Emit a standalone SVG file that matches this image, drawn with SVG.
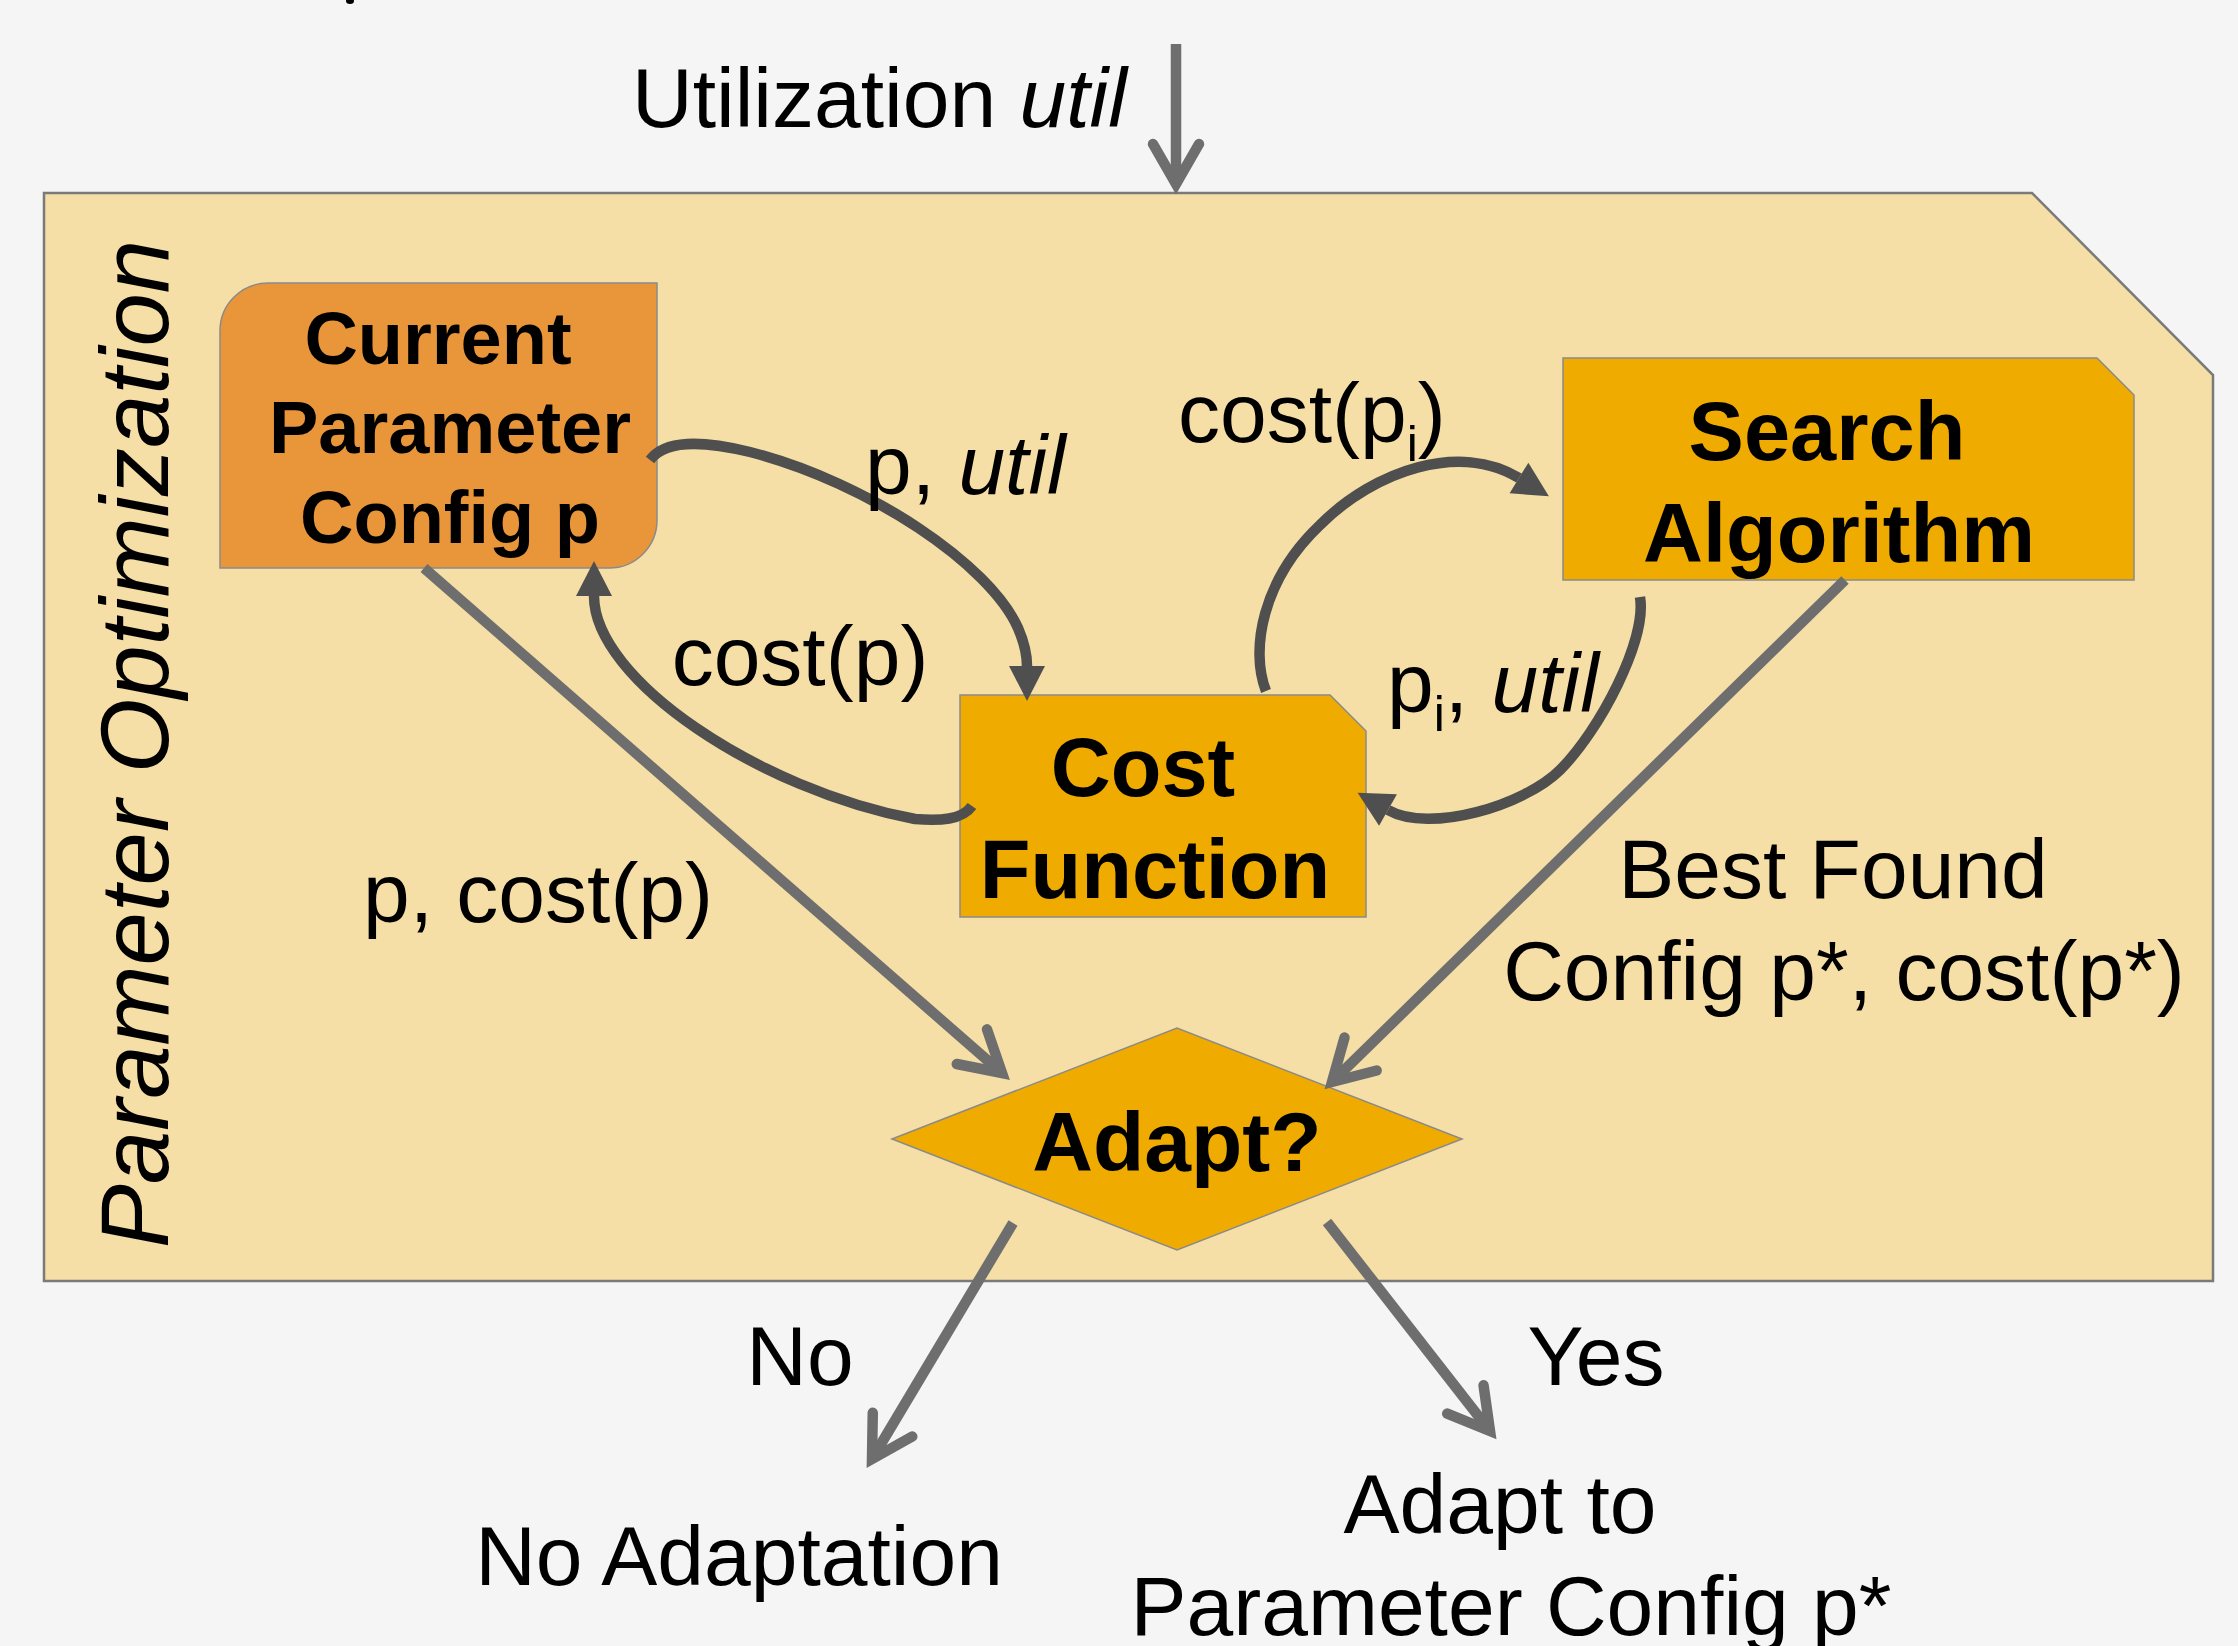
<svg xmlns="http://www.w3.org/2000/svg" width="2238" height="1646" viewBox="0 0 2238 1646">
  <style>
    .lbl { font-family: "Liberation Sans", Arial, Helvetica, sans-serif; font-size: 84px; fill: #000; }
    .it { font-style: italic; }
    .sub { font-size: 50px; }
    .bold { font-family: "Liberation Sans", Arial, Helvetica, sans-serif; font-weight: bold; fill: #000; text-anchor: middle; }
    .mid { text-anchor: middle; }
    .node { stroke: #8a8a8a; stroke-width: 1.5; }
    .orange { fill: #E9963B; }
    .gold { fill: #F0AB00; }
    .straight { fill: none; stroke: #6E6E6E; stroke-width: 10.5; marker-end: url(#chev); }
    .curved { fill: none; stroke: #4F4F4F; stroke-width: 10.5; marker-end: url(#tri); }
  </style>
  <defs>
    <marker id="chev" markerUnits="userSpaceOnUse" viewBox="-60 -40 80 80" markerWidth="80" markerHeight="80" refX="0" refY="0" orient="auto">
      <path d="M-40,-23 L0,0 L-40,23" fill="none" stroke="#6E6E6E" stroke-width="10.5" stroke-linecap="round" stroke-linejoin="miter" stroke-miterlimit="10"/>
    </marker>
    <marker id="tri" markerUnits="userSpaceOnUse" viewBox="-2 -20 40 40" markerWidth="40" markerHeight="40" refX="0" refY="0" orient="auto">
      <path d="M0,-18 L35,0 L0,18 Z" fill="#4F4F4F"/>
    </marker>
  </defs>

  <rect x="0" y="0" width="2238" height="1646" fill="#F5F5F5"/>
  <ellipse cx="350" cy="1" rx="4" ry="3" fill="#000"/>

  <g id="container">
    <path d="M44,193 L2032,193 L2213,375 L2213,1281 L44,1281 Z" fill="#F6DFA6" stroke="#7a7a7a" stroke-width="2.5"/>
    <text class="lbl it mid" style="font-size:96px" transform="translate(168,744) rotate(-90)">Parameter Optimization</text>
  </g>

  <g id="current-config">
    <path class="node orange" d="M268,283 L657,283 L657,520 A48,48 0 0 1 609,568 L220,568 L220,331 A48,48 0 0 1 268,283 Z"/>
    <text class="bold" font-size="74" x="438" y="364">Current</text>
    <text class="bold" font-size="74" x="450" y="453">Parameter</text>
    <text class="bold" font-size="74" x="450" y="543">Config p</text>
  </g>

  <g id="search-algorithm">
    <path class="node gold" d="M1563,358 L2097,358 L2134,395 L2134,580 L1563,580 Z"/>
    <text class="bold" font-size="83" x="1827" y="460">Search</text>
    <text class="bold" font-size="83" x="1839" y="562">Algorithm</text>
  </g>

  <g id="cost-function">
    <path class="node gold" d="M960,695 L1330,695 L1366,731 L1366,917 L960,917 Z"/>
    <text class="bold" font-size="83" x="1143" y="796">Cost</text>
    <text class="bold" font-size="83" x="1155" y="898">Function</text>
  </g>

  <g id="adapt">
    <path class="node gold" d="M892,1139 L1177,1028 L1462,1139 L1177,1250 Z"/>
    <text class="bold" font-size="84" x="1177" y="1171">Adapt?</text>
  </g>

  <g id="outcome-no">
    <text class="lbl mid" x="739" y="1585">No Adaptation</text>
  </g>
  <g id="outcome-yes">
    <text class="lbl mid" x="1500" y="1533">Adapt to</text>
    <text class="lbl mid" x="1511" y="1635">Parameter Config p*</text>
  </g>

  <g id="connectors">
    <path class="straight" d="M1176,44 L1176,184"/>
    <path class="straight" d="M424,568 L1002,1073"/>
    <path class="straight" d="M1845,580 L1332,1082"/>
    <path class="straight" d="M1013,1223 L872,1459"/>
    <path class="straight" d="M1327,1222 L1490,1431"/>

    <path class="curved" d="M650,460 C665,440 700,440 750,452 C870,483 990,565 1018,628 C1024,642 1027,655 1027,666"/>
    <path class="curved" d="M972,806 C962,820 940,821 915,819 C760,790 594,680 594,596"/>
    <path class="curved" d="M1266,691 C1250,650 1262,580 1320,525 C1375,470 1460,442 1519,478"/>
    <path class="curved" d="M1640,597 C1647,640 1600,730 1560,770 C1525,805 1430,834 1388,810"/>

    <text class="lbl" x="632" y="127">Utilization <tspan class="it">util</tspan></text>
    <text class="lbl" x="865" y="494">p, <tspan class="it">util</tspan></text>
    <text class="lbl mid" x="800" y="685">cost(p)</text>
    <text class="lbl" x="1178" y="442">cost(p<tspan class="sub" dy="19">i</tspan><tspan dy="-19">)</tspan></text>
    <text class="lbl" x="1387" y="712">p<tspan class="sub" dy="19">i</tspan><tspan dy="-19">, </tspan><tspan class="it">util</tspan></text>
    <text class="lbl mid" x="538" y="922">p, cost(p)</text>
    <text class="lbl mid" x="1833" y="898">Best Found</text>
    <text class="lbl mid" x="1844" y="1000">Config p*, cost(p*)</text>
    <text class="lbl mid" x="800" y="1385">No</text>
    <text class="lbl mid" x="1596" y="1385">Yes</text>
  </g>
</svg>
